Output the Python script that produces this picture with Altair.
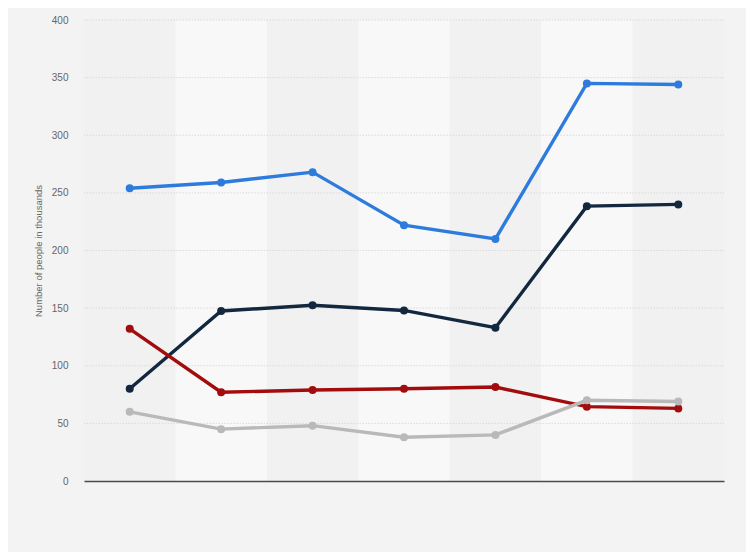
import altair as alt
import pandas as pd

categories = ["2013", "2014", "2015", "2016", "2017", "2018", "2019"]
series_names = ["Series A", "Series B", "Series C", "Series D"]
series_a = [254, 259, 268, 222, 210, 345, 344]
series_b = [80, 147.5, 152.5, 148, 133, 238.5, 240]
series_c = [132, 77, 79, 80, 81.5, 64.5, 63]
series_d = [60, 45, 48, 38, 40, 70, 69]
colors = ["#2d7bdd", "#13283f", "#a20c0c", "#b9b9b9"]
y_ticks = [0, 50, 100, 150, 200, 250, 300, 350, 400]

rows = []
for name, vals in zip(series_names, [series_a, series_b, series_c, series_d]):
    for c, v in zip(categories, vals):
        rows.append({"cat": c, "series": name, "value": v})
df = pd.DataFrame(rows)

bands = pd.DataFrame({"cat": categories,
                      "shade": ["dark" if i % 2 == 0 else "light" for i in range(len(categories))],
                      "lo": 0, "hi": 400})
grid = pd.DataFrame({"v": y_ticks[1:]})

x = alt.X("cat:N", sort=categories, scale=alt.Scale(paddingInner=0, paddingOuter=0),
          axis=alt.Axis(title=None, labels=False, ticks=False, domain=True,
                        domainColor="#4a4a4a", domainWidth=1.5, grid=False))
yscale = alt.Scale(domain=[0, 400], nice=False)

band_layer = alt.Chart(bands).mark_rect().encode(
    x=x,
    y=alt.Y("lo:Q", scale=yscale,
            axis=alt.Axis(title="Number of people in thousands", values=y_ticks,
                          grid=False, ticks=False, domain=False, labelPadding=16,
                          labelColor="#666666", labelFontSize=10, titleColor="#666666",
                          titleFontSize=9.5, titleFontWeight="normal", titlePadding=8,
                          labelFont="Liberation Sans", titleFont="Liberation Sans")),
    y2="hi:Q",
    color=alt.Color("shade:N", scale=alt.Scale(domain=["dark", "light"], range=["#f1f1f1", "#f8f8f8"]), legend=None),
)

grid_layer = alt.Chart(grid).mark_rule(color="#dadada", strokeDash=[1.5, 1.5], strokeWidth=1).encode(
    y=alt.Y("v:Q", scale=yscale)
)

line_layer = alt.Chart(df).mark_line(strokeWidth=3.4).encode(
    x=x,
    y=alt.Y("value:Q", scale=yscale),
    color=alt.Color("series:N", scale=alt.Scale(domain=series_names, range=colors), legend=None),
)
point_layer = alt.Chart(df).mark_circle(size=64, opacity=1).encode(
    x=x,
    y=alt.Y("value:Q", scale=yscale),
    color=alt.Color("series:N", scale=alt.Scale(domain=series_names, range=colors), legend=None),
)

chart = alt.layer(band_layer, grid_layer, line_layer, point_layer).resolve_scale(color="independent").properties(
    width=640, height=461,
    autosize=alt.AutoSizeParams(type="none"),
    padding={"left": 76, "top": 12, "right": 22, "bottom": 71},
    background="#f3f3f3",
).configure_view(stroke=None)

chart.save("out.html", embed_options={"renderer": "svg", "actions": False})
